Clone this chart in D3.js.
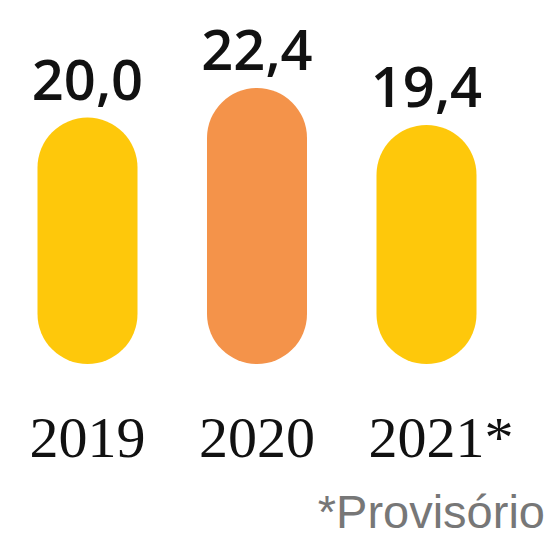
<!DOCTYPE html>
<html>
<head>
<meta charset="utf-8">
<script src="https://cdn.jsdelivr.net/npm/d3@7"></script>
<style>
	body { margin: 0; background: #fff; }
	svg { display: block; }
</style>
</head>
<body>
<div id="chart"></div>
<script>
var years = ["2019", "2020", "2021"],
	values = [20.0, 22.4, 19.4],
	valueLabels = ["20,0", "22,4", "19,4"],
	provisional = [false, false, true],
	barColors = ["#fec80b", "#f4934a", "#fec80b"],
	footnote = "*Provisório";

var width = 554,
	height = 537;

var svg = d3.select("#chart").append("svg")
	.attr("width", width)
	.attr("height", height);

var x = d3.scaleBand()
	.domain(years)
	.range([37.5, 476.5])
	.paddingInner(0.41)
	.paddingOuter(0);

var y = d3.scaleLinear()
	.domain([0, 22.4])
	.range([364, 88]);

var bw = x.bandwidth();

// pill shaped bars
svg.selectAll("rect.bar")
	.data(years)
	.enter().append("rect")
	.attr("class", "bar")
	.attr("x", function(d) { return x(d); })
	.attr("y", function(d, i) { return y(values[i]); })
	.attr("width", bw)
	.attr("height", function(d, i) { return y(0) - y(values[i]); })
	.attr("rx", bw / 2)
	.attr("ry", bw / 2)
	.attr("fill", function(d, i) { return barColors[i]; });

// value labels above bars
svg.selectAll("text.value")
	.data(years)
	.enter().append("text")
	.attr("class", "value")
	.attr("x", function(d) { return x(d) + bw / 2; })
	.attr("y", function(d, i) { return y(values[i]) - 18; })
	.attr("text-anchor", "middle")
	.attr("font-family", "'Open Sans', sans-serif")
	.attr("font-weight", 600)
	.attr("font-size", 56)
	.attr("fill", "#111")
	.text(function(d, i) { return valueLabels[i]; });

// year labels, serif
var yearText = svg.selectAll("text.year")
	.data(years)
	.enter().append("text")
	.attr("class", "year")
	.attr("x", function(d) { return x(d) + bw / 2; })
	.attr("y", 457)
	.attr("text-anchor", "middle")
	.attr("font-family", "'Liberation Serif', 'DejaVu Serif', serif")
	.attr("font-size", 58)
	.attr("fill", "#111")
	.text(function(d) { return d; });

// asterisk for provisional years, placed after the centred year
yearText.each(function(d, i) {
	if (!provisional[i]) return;
	var len = this.getComputedTextLength();
	svg.append("text")
		.attr("x", x(d) + bw / 2 + len / 2)
		.attr("y", 457)
		.attr("font-family", "'Liberation Serif', 'DejaVu Serif', serif")
		.attr("font-size", 58)
		.attr("fill", "#111")
		.text("*");
});

svg.append("text")
	.attr("x", 545)
	.attr("y", 528)
	.attr("text-anchor", "end")
	.attr("font-family", "'Liberation Sans', Arial, sans-serif")
	.attr("font-size", 47)
	.attr("fill", "#777")
	.text(footnote);
</script>
</body>
</html>
